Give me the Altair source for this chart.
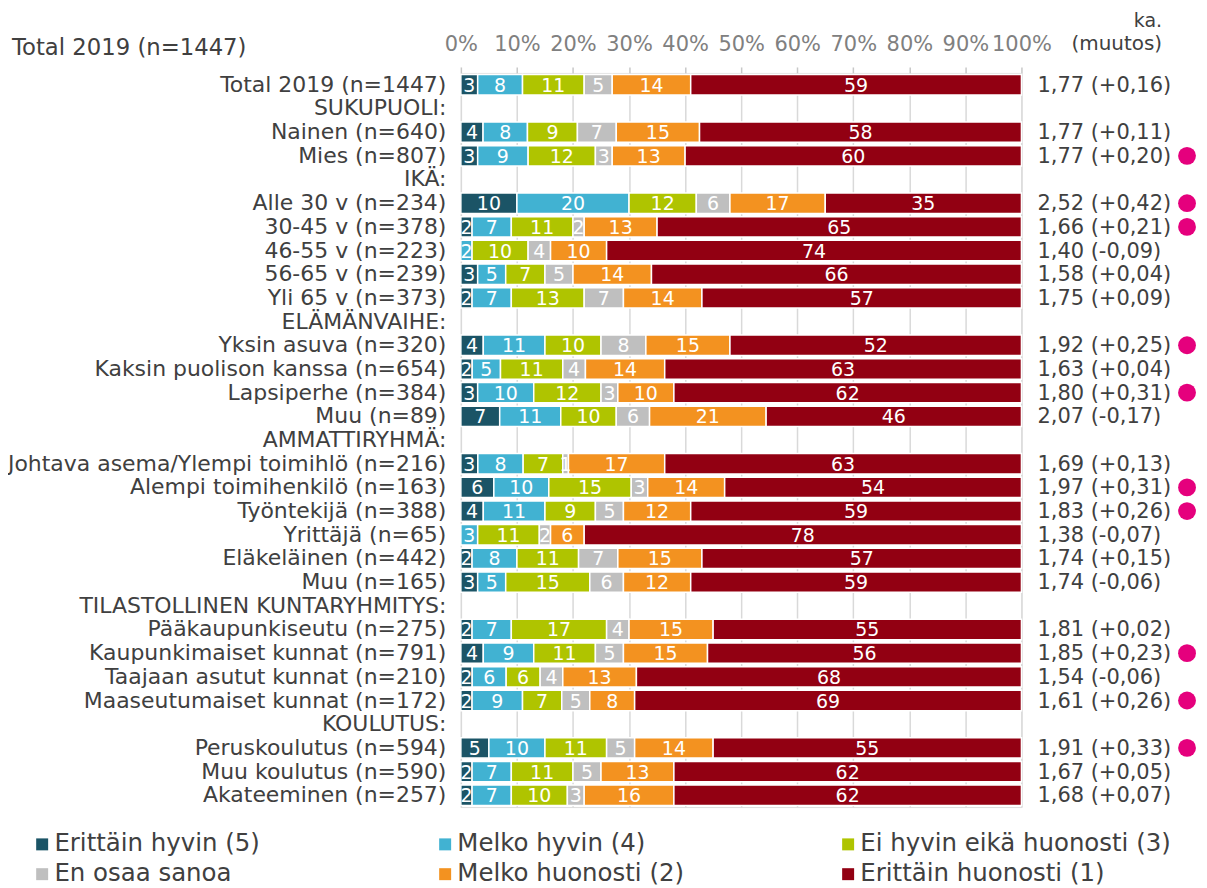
import altair as alt
import pandas as pd

N = None

rows = [
    "Total 2019 (n=1447)", "SUKUPUOLI:", "Nainen (n=640)", "Mies (n=807)", "IKÄ:",
    "Alle 30 v (n=234)", "30-45 v (n=378)", "46-55 v (n=223)", "56-65 v (n=239)", "Yli 65 v (n=373)",
    "ELÄMÄNVAIHE:", "Yksin asuva (n=320)", "Kaksin puolison kanssa (n=654)", "Lapsiperhe (n=384)", "Muu (n=89)",
    "AMMATTIRYHMÄ:", "Johtava asema/Ylempi toimihlö (n=216)", "Alempi toimihenkilö (n=163)", "Työntekijä (n=388)",
    "Yrittäjä (n=65)", "Eläkeläinen (n=442)", "Muu (n=165)",
    "TILASTOLLINEN KUNTARYHMITYS:", "Pääkaupunkiseutu (n=275)", "Kaupunkimaiset kunnat (n=791)",
    "Taajaan asutut kunnat (n=210)", "Maaseutumaiset kunnat (n=172)",
    "KOULUTUS:", "Peruskoulutus (n=594)", "Muu koulutus (n=590)", "Akateeminen (n=257)",
]

categories = ["Erittäin hyvin (5)", "Melko hyvin (4)", "Ei hyvin eikä huonosti (3)",
              "En osaa sanoa", "Melko huonosti (2)", "Erittäin huonosti (1)"]
colors = ["#1b5466", "#41b2d2", "#afc400", "#bfbfbf", "#f39220", "#920012"]

erittain_hyvin    = [3, N, 4, 3, N, 10, 2, 0, 3, 2, N, 4, 2, 3, 7, N, 3, 6, 4, 0, 2, 3, N, 2, 4, 2, 2, N, 5, 2, 2]
melko_hyvin       = [8, N, 8, 9, N, 20, 7, 2, 5, 7, N, 11, 5, 10, 11, N, 8, 10, 11, 3, 8, 5, N, 7, 9, 6, 9, N, 10, 7, 7]
ei_hyvin_eika     = [11, N, 9, 12, N, 12, 11, 10, 7, 13, N, 10, 11, 12, 10, N, 7, 15, 9, 11, 11, 15, N, 17, 11, 6, 7, N, 11, 11, 10]
en_osaa_sanoa     = [5, N, 7, 3, N, 6, 2, 4, 5, 7, N, 8, 4, 3, 6, N, 1, 3, 5, 2, 7, 6, N, 4, 5, 4, 5, N, 5, 5, 3]
melko_huonosti    = [14, N, 15, 13, N, 17, 13, 10, 14, 14, N, 15, 14, 10, 21, N, 17, 14, 12, 6, 15, 12, N, 15, 15, 13, 8, N, 14, 13, 16]
erittain_huonosti = [59, N, 58, 60, N, 35, 65, 74, 66, 57, N, 52, 63, 62, 46, N, 63, 54, 59, 78, 57, 59, N, 55, 56, 68, 69, N, 55, 62, 62]

ka     = [1.77, N, 1.77, 1.77, N, 2.52, 1.66, 1.40, 1.58, 1.75, N, 1.92, 1.63, 1.80, 2.07, N,
          1.69, 1.97, 1.83, 1.38, 1.74, 1.74, N, 1.81, 1.85, 1.54, 1.61, N, 1.91, 1.67, 1.68]
muutos = [0.16, N, 0.11, 0.20, N, 0.42, 0.21, -0.09, 0.04, 0.09, N, 0.25, 0.04, 0.31, -0.17, N,
          0.13, 0.31, 0.26, -0.07, 0.15, -0.06, N, 0.02, 0.23, -0.06, 0.26, N, 0.33, 0.05, 0.07]
significant = [0, 0, 0, 1, 0, 1, 1, 0, 0, 0, 0, 1, 0, 1, 0, 0, 0, 1, 1, 0, 0, 0, 0, 0, 1, 0, 1, 0, 1, 0, 0]

series = [erittain_hyvin, melko_hyvin, ei_hyvin_eika, en_osaa_sanoa, melko_huonosti, erittain_huonosti]

# long table for bars
recs = []
for ci, (cat, vals) in enumerate(zip(categories, series)):
    for r, v in zip(rows, vals):
        if v is not None and v > 0:
            recs.append({"row": r, "category": cat, "order": ci, "value": v})
bars_df = pd.DataFrame(recs)

def fmt(x, signed=False):
    s = f"{x:+.2f}" if signed else f"{x:.2f}"
    return s.replace(".", ",")

right_df = pd.DataFrame([
    {"row": r, "txt": f"{fmt(k)} ({fmt(m, True)})", "sig": s}
    for r, k, m, s in zip(rows, ka, muutos, significant) if k is not None
])
dots_df = right_df[right_df["sig"] == 1]

FONT = "DejaVu Sans"
TXT = "#404040"
W, H = 562, 736

y_enc = alt.Y("row:N", sort=rows,
              scale=alt.Scale(domain=rows, paddingInner=0.14, paddingOuter=0.07),
              axis=alt.Axis(title=None, ticks=False, domain=False, labelPadding=15,
                            labelFontSize=22, labelColor=TXT, labelFont=FONT, labelLimit=600))

grid_vals = [i / 20 for i in range(21)]

base = alt.Chart(bars_df).transform_stack(
    stack="value", groupby=["row"], as_=["v0", "v1"], offset="normalize",
    sort=[alt.SortField("order", order="ascending")]
).transform_calculate(mid="(datum.v0 + datum.v1) / 2")

bars = base.mark_bar(stroke="white", strokeWidth=1.5).encode(
    x=alt.X("v0:Q", scale=alt.Scale(domain=[0, 1], nice=False, zero=True),
            axis=alt.Axis(orient="top", title=None, values=grid_vals,
                          labelExpr="round(datum.value*100) % 10 == 0 ? round(datum.value*100) + '%' : ''",
                          grid=True, gridColor="#d9d9d9", gridWidth=1.5,
                          domain=False, tickColor="#c8c8c8", tickSize=6, tickWidth=1.5,
                          labelFontSize=21, labelColor="#808080", labelFont=FONT,
                          labelPadding=12, labelOverlap=False, labelFlush=False)),
    x2="v1:Q",
    y=y_enc,
    color=alt.Color("category:N", scale=alt.Scale(domain=categories, range=colors),
                    legend=alt.Legend(title=None, orient="none", legendX=-432, legendY=761,
                                      direction="horizontal", columns=3, gridAlign="all",
                                      columnPadding=68, rowPadding=5, symbolType="square",
                                      symbolSize=144, symbolStrokeWidth=0, labelFontSize=24.5,
                                      labelFont=FONT, labelColor=TXT, labelOffset=0,
                                      labelLimit=600, padding=0)),
)

seg_text = base.mark_text(color="white", fontSize=19, font=FONT, baseline="middle", dy=1).encode(
    x="mid:Q",
    y=y_enc,
    text=alt.Text("value:Q"),
)

right_text = alt.Chart(right_df).mark_text(align="left", baseline="middle", fontSize=21,
                                           font=FONT, color=TXT, dy=1).encode(
    x=alt.value(W + 16),
    y=y_enc,
    text="txt:N",
)

dots = alt.Chart(dots_df).mark_circle(size=320, color="#e5007d", opacity=1).encode(
    x=alt.value(W + 166),
    y=y_enc,
)

hdr_df = pd.DataFrame({"t": ["Total 2019 (n=1447)"]})
hdr_left = alt.Chart(hdr_df).mark_text(align="left", baseline="middle", fontSize=22.8, font=FONT,
                                       color=TXT).encode(
    x=alt.value(-450), y=alt.value(-25), text="t:N")
ka_df = pd.DataFrame({"t": ["ka."]})
hdr_ka = alt.Chart(ka_df).mark_text(align="right", baseline="middle", fontSize=19, font=FONT,
                                    color=TXT).encode(
    x=alt.value(703), y=alt.value(-52), text="t:N")
mu_df = pd.DataFrame({"t": ["(muutos)"]})
hdr_mu = alt.Chart(mu_df).mark_text(align="right", baseline="middle", fontSize=20, font=FONT,
                                    color=TXT).encode(
    x=alt.value(703), y=alt.value(-29), text="t:N")

chart = alt.layer(bars, seg_text, right_text, dots, hdr_left, hdr_ka, hdr_mu).properties(
    width=W, height=H,
    autosize=alt.AutoSizeParams(type="none"),
    padding={"left": 454, "top": 64, "right": 178, "bottom": 78},
).configure_view(stroke=None).configure(font=FONT)

chart.save("out.html", embed_options={"renderer": "svg", "actions": False})
